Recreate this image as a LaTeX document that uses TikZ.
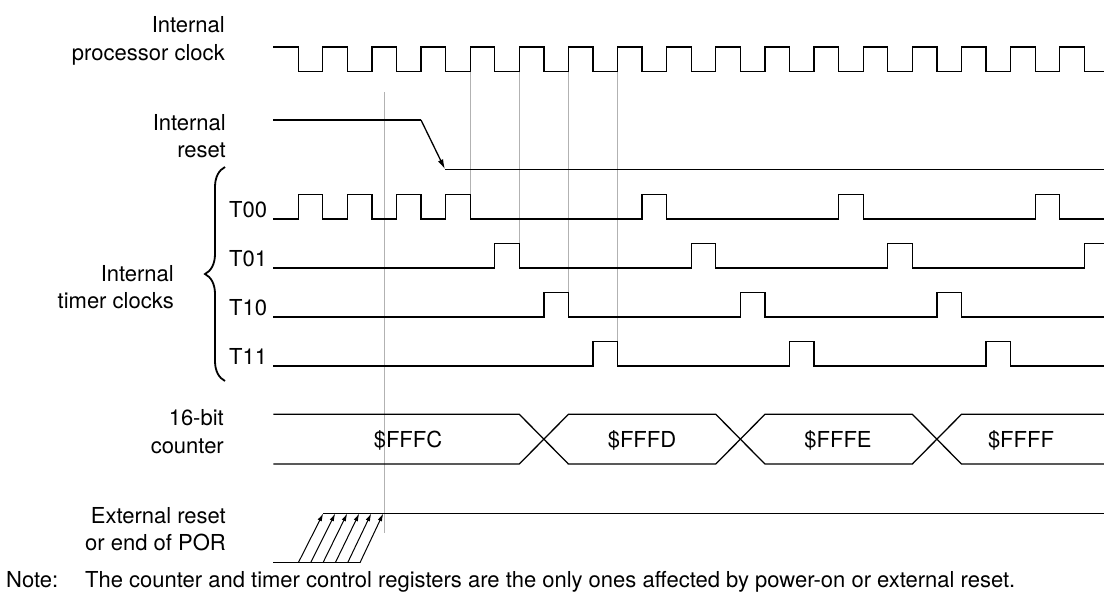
\documentclass[tikz,border=0pt]{standalone}
\usepackage{fontspec}
\setmainfont{TeX Gyre Heros}
\usetikzlibrary{arrows.meta,decorations.pathreplacing}
\definecolor{guidegray}{RGB}{178,178,178}
\def\cper{49.13}
\def\cfz{298.2}
\def\chalf{24.565}
\begin{document}
\begin{tikzpicture}[x=1pt,y=-1pt,
  sig/.style={line width=1.3pt, draw=black},
  guide/.style={line width=1pt, draw=guidegray},
  lbl/.style={font=\fontsize{22}{26}\selectfont, inner sep=0pt, anchor=base east},
  tlbl/.style={font=\fontsize{22}{26}\selectfont, inner sep=0pt, anchor=base west},
  val/.style={font=\fontsize{22}{26}\selectfont, inner sep=0pt, anchor=base},
  bigtip/.style={-{Latex[length=10pt,width=5.5pt]}},
  smalltip/.style={-{Latex[length=8pt,width=4.5pt]}}]
\useasboundingbox (0,0) rectangle (1104,595);

% guide lines
\coordinate (g0a) at (384,92);  \coordinate (g0b) at (384,533);
\coordinate (g1a) at ({\cfz+\chalf+3*\cper},71.5); \coordinate (g1b) at ({\cfz+\chalf+3*\cper},194.5);
\coordinate (g2a) at ({\cfz+\chalf+4*\cper},71.5); \coordinate (g2b) at ({\cfz+\chalf+4*\cper},243.5);
\coordinate (g3a) at ({\cfz+\chalf+5*\cper},71.5); \coordinate (g3b) at ({\cfz+\chalf+5*\cper},292.5);
\coordinate (g4a) at ({\cfz+\chalf+6*\cper},71.5); \coordinate (g4b) at ({\cfz+\chalf+6*\cper},341.5);
\draw[guide] (g0a) -- (g0b);
\draw[guide] (g1a) -- (g1b);
\draw[guide] (g2a) -- (g2b);
\draw[guide] (g3a) -- (g3b);
\draw[guide] (g4a) -- (g4b);

% labels
\node[lbl] (lclk1) at (225,32.3) {Internal};
\node[lbl] (lclk2) at (225,60) {processor clock};
\node[lbl] (lrst1) at (226,130.7) {Internal};
\node[lbl] (lrst2) at (226,157.3) {reset};
\node[lbl] (ltim1) at (174,281.7) {Internal};
\node[lbl] (ltim2) at (174,308.3) {timer clocks};
\node[lbl] (lcnt1) at (224,425) {16-bit};
\node[lbl] (lcnt2) at (224,453.3) {counter};
\node[lbl] (lext1) at (226,523.3) {External reset};
\node[lbl] (lext2) at (226,550) {or end of POR};
\node[tlbl] (lt00) at (229,217) {T00};
\node[tlbl] (lt01) at (229,266) {T01};
\node[tlbl] (lt10) at (229,315) {T10};
\node[tlbl] (lt11) at (229,364) {T11};
\node[tlbl] (note) at (6,587) {\makebox[79pt][l]{Note:}The counter and timer control registers are the only ones affected by power-on or external reset.};

% brace
\draw[line width=1.8pt, decorate, decoration={brace, amplitude=20pt, aspect=0.5}] (225,381) -- (225,167);

% internal processor clock
\draw[sig] (273,47) \foreach \k in {0,...,15} { -- ({\cfz+\cper*\k},47) -- ({\cfz+\cper*\k},71.5) -- ({\cfz+\chalf+\cper*\k},71.5) -- ({\cfz+\chalf+\cper*\k},47) } -- (1084.3,47) -- (1084.3,71.5) -- (1104,71.5);

% internal reset
\coordinate (rs0) at (273.3,120);
\coordinate (rs1) at (421,120);
\coordinate (rs2) at (445,169.3);
\coordinate (rs3) at (1104,169.3);
\draw[sig] (rs0) -- (rs1);
\draw[sig,bigtip] (rs1) -- (rs2);
\draw[sig] (rs2) -- (rs3);

% timer clocks
\draw[sig] (273.3,219) \foreach \k in {0,1,2,3,7,11,15} { -- ({\cfz+\cper*\k},219) -- ({\cfz+\cper*\k},194.5) -- ({\cfz+\chalf+\cper*\k},194.5) -- ({\cfz+\chalf+\cper*\k},219) } -- (1104,219);
\draw[sig] (273.3,268) \foreach \k in {4,8,12} { -- ({\cfz+\cper*\k},268) -- ({\cfz+\cper*\k},243.5) -- ({\cfz+\chalf+\cper*\k},243.5) -- ({\cfz+\chalf+\cper*\k},268) } -- (1084.3,268) -- (1084.3,243.5) -- (1104,243.5);
\draw[sig] (273.3,317) \foreach \k in {5,9,13} { -- ({\cfz+\cper*\k},317) -- ({\cfz+\cper*\k},292.5) -- ({\cfz+\chalf+\cper*\k},292.5) -- ({\cfz+\chalf+\cper*\k},317) } -- (1104,317);
\draw[sig] (273.3,366) \foreach \k in {6,10,14} { -- ({\cfz+\cper*\k},366) -- ({\cfz+\cper*\k},341.5) -- ({\cfz+\chalf+\cper*\k},341.5) -- ({\cfz+\chalf+\cper*\k},366) } -- (1104,366);

% 16-bit counter
\def\ctop{414.3}\def\cbot{464}
\draw[sig] (273.3,\ctop) -- ({\cfz+\chalf+4*\cper},\ctop) -- ({\cfz+\chalf+5*\cper},\cbot) -- ({\cfz+\chalf+8*\cper},\cbot) -- ({\cfz+\chalf+9*\cper},\ctop) -- ({\cfz+\chalf+12*\cper},\ctop) -- ({\cfz+\chalf+13*\cper},\cbot) -- (1104,\cbot);
\draw[sig] (273.3,\cbot) -- ({\cfz+\chalf+4*\cper},\cbot) -- ({\cfz+\chalf+5*\cper},\ctop) -- ({\cfz+\chalf+8*\cper},\ctop) -- ({\cfz+\chalf+9*\cper},\cbot) -- ({\cfz+\chalf+12*\cper},\cbot) -- ({\cfz+\chalf+13*\cper},\ctop) -- (1104,\ctop);
\node[val] (v1) at (408,447.5) {\$FFFC};
\node[val] (v2) at (642,447.5) {\$FFFD};
\node[val] (v3) at (838,447.5) {\$FFFE};
\node[val] (v4) at (1021,447.5) {\$FFFF};

% external reset
\coordinate (ex0) at (273.3,562.7);
\coordinate (ex1) at (360,562.7);
\coordinate (ex2) at (323.3,513.3);
\coordinate (ex3) at (1104,513.3);
\draw[sig] (ex0) -- (ex1);
\draw[sig] (ex2) -- (ex3);
\foreach \i in {0,...,5} {
  \coordinate (eb\i) at ({298.3+12.34*\i},562.7);
  \coordinate (et\i) at ({323.3+12*\i},513.3);
  \draw[line width=1pt,smalltip] (eb\i) -- (et\i);
}
\end{tikzpicture}
\end{document}
